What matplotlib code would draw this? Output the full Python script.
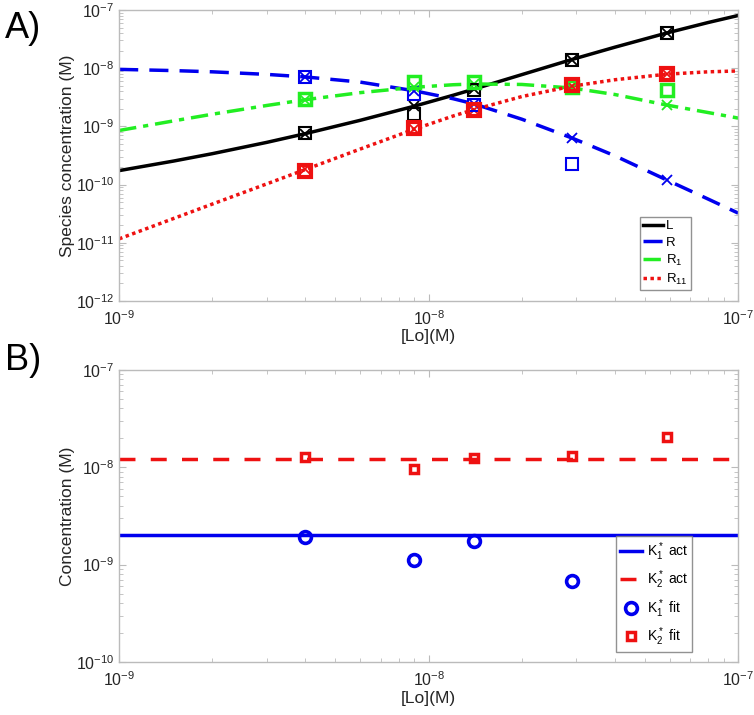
import matplotlib
matplotlib.use("Agg")
import matplotlib.pyplot as plt
import numpy as np
from matplotlib.ticker import LogLocator, NullFormatter

plt.rcParams['font.family'] = ['Liberation Sans', 'DejaVu Sans']
plt.rcParams['mathtext.default'] = 'regular'
plt.rcParams['axes.unicode_minus'] = False

# ---- Panel A data ----
x_curve = [1e-9, 1.5e-9, 2e-9, 3e-9, 4e-9, 6e-9, 9e-9, 1.2e-8, 1.4e-8,
           2e-8, 2.9e-8, 4e-8, 5.9e-8, 8e-8, 1e-7]
L_curve = [1.74e-10, 2.54e-10, 3.40e-10, 5.32e-10, 7.52e-10, 1.27e-9, 2.23e-9,
           3.43e-9, 4.37e-9, 7.76e-9, 1.41e-8, 2.30e-8, 4.05e-8, 6.10e-8, 8.05e-8]
R_curve = [9.55e-9, 9.10e-9, 8.67e-9, 7.83e-9, 7.08e-9, 5.78e-9, 4.09e-9,
           2.99e-9, 2.44e-9, 1.33e-9, 6.34e-10, 3.12e-10, 1.19e-10, 5.64e-11, 3.24e-11]
R1_curve = [8.51e-10, 1.245e-9, 1.62e-9, 2.29e-9, 2.88e-9, 3.80e-9, 4.70e-9,
            5.20e-9, 5.36e-9, 5.26e-9, 4.57e-9, 3.53e-9, 2.32e-9, 1.73e-9, 1.39e-9]
R11_curve = [1.17e-11, 2.62e-11, 4.63e-11, 1.03e-10, 1.82e-10, 4.07e-10, 8.97e-10,
             1.51e-9, 1.94e-9, 3.26e-9, 4.90e-9, 6.34e-9, 7.91e-9, 8.67e-9, 8.97e-9]

x_pts = [4e-9, 9e-9, 1.4e-8, 2.9e-8, 5.9e-8]
L_sim = [7.52e-10, 2.23e-9, 4.37e-9, 1.41e-8, 4.05e-8]
R_sim = [7.08e-9, 4.09e-9, 2.44e-9, 6.34e-10, 1.19e-10]
R1_sim = [2.88e-9, 4.70e-9, 5.36e-9, 4.57e-9, 2.32e-9]
R11_sim = [1.82e-10, 8.97e-10, 1.94e-9, 4.90e-9, 7.91e-9]

L_fit = [7.6e-10, 1.66e-9, 4.2e-9, 1.41e-8, 4.1e-8]
R_fit = [7.1e-9, 3.6e-9, 2.3e-9, 2.3e-10, np.nan]
R1_fit = [2.9e-9, 5.8e-9, 5.9e-9, 4.7e-9, 4.2e-9]
R11_fit = [1.74e-10, 9.5e-10, 1.95e-9, 5.1e-9, 7.9e-9]

# ---- Panel B data ----
K1_act = 2.0e-9
K2_act = 1.21e-8
x_fit = [4e-9, 9e-9, 1.4e-8, 2.9e-8, 5.9e-8]
K1_fit = [1.9e-9, 1.12e-9, 1.73e-9, 6.8e-10, np.nan]
K2_fit = [1.26e-8, 9.5e-9, 1.24e-8, 1.31e-8, 2.04e-8]

blue = '#0000ee'
green = '#22ee22'
red = '#ee1111'
txt = '#262626'

fig = plt.figure(figsize=(7.54, 7.15), dpi=100)
ax1 = fig.add_axes([0.158, 0.579, 0.821, 0.407])
ax2 = fig.add_axes([0.158, 0.074, 0.821, 0.409])

def style(ax, ymin, ymax):
    ax.set_xscale('log'); ax.set_yscale('log')
    ax.set_xlim(1e-9, 1e-7); ax.set_ylim(ymin, ymax)
    for s in ax.spines.values():
        s.set_color('#bbbbbb'); s.set_linewidth(1.0)
    ax.tick_params(which='both', direction='in', top=True, right=True,
                   color='#bbbbbb', labelsize=11.5, labelcolor=txt)
    ax.tick_params(axis='x', which='major', pad=6)
    ax.tick_params(which='major', length=5)
    ax.tick_params(which='minor', length=3)
    ax.xaxis.set_minor_locator(LogLocator(base=10, subs=np.arange(2, 10)))
    ax.yaxis.set_minor_locator(LogLocator(base=10, subs=np.arange(2, 10)))
    ax.xaxis.set_minor_formatter(NullFormatter())
    ax.yaxis.set_minor_formatter(NullFormatter())
    ax.set_xlabel('[Lo](M)', fontsize=12.5, color=txt, labelpad=1)

style(ax1, 1e-12, 1e-7)
lw = 2.5
hL, = ax1.plot(x_curve, L_curve, '-', color='black', lw=lw, label='L')
hR, = ax1.plot(x_curve, R_curve, '--', color=blue, lw=lw, dashes=(5.5, 3.2), label='R')
hR1, = ax1.plot(x_curve, R1_curve, '-.', color=green, lw=lw, dashes=(5, 2, 1.5, 2), label='R$_1$')
hR11, = ax1.plot(x_curve, R11_curve, ':', color=red, lw=lw, dashes=(1, 1), label='R$_{11}$')
for ys, c in [(L_sim, 'black'), (R_sim, blue), (R1_sim, green), (R11_sim, red)]:
    ax1.plot(x_pts, ys, 'x', color=c, ms=7, mew=1.3, ls='none')
for ys, c, mw in [(L_fit, 'black', 1.5), (R_fit, blue, 1.5), (R1_fit, green, 2.5), (R11_fit, red, 3)]:
    ax1.plot(x_pts, ys, 's', mfc='none', mec=c, ms=9, mew=mw, ls='none')
ax1.set_ylabel('Species concentration (M)', fontsize=12.5, color=txt)
ax1.yaxis.set_label_coords(-0.072, 0.5)
leg1 = ax1.legend(handles=[hL, hR, hR1, hR11], loc='lower right',
                  bbox_to_anchor=(0.924, 0.038), fontsize=9.5, handlelength=1.5,
                  handletextpad=0.25, borderpad=0.25, labelspacing=0.3,
                  borderaxespad=0, frameon=True, fancybox=False, edgecolor='#777777')
leg1.get_frame().set_linewidth(1.0)

style(ax2, 1e-10, 1e-7)
h1, = ax2.plot([1e-9, 1e-7], [K1_act, K1_act], '-', color=blue, lw=lw, label='K$_1^*$ act')
h2, = ax2.plot([1e-9, 1e-7], [K2_act, K2_act], '--', color=red, lw=lw, dashes=(4.6, 4.4),
               label='K$_2^*$ act')
h3, = ax2.plot(x_fit, K1_fit, 'o', mfc='none', mec=blue, ms=8.5, mew=2.6, ls='none',
               label='K$_1^*$ fit')
h4, = ax2.plot(x_fit, K2_fit, 's', mfc='none', mec=red, ms=6, mew=2.5, ls='none',
               label='K$_2^*$ fit')
ax2.set_ylabel('Concentration (M)', fontsize=12.5, color=txt)
ax2.yaxis.set_label_coords(-0.072, 0.5)
leg2 = ax2.legend(handles=[h1, h2, h3, h4], loc='lower right',
                  bbox_to_anchor=(0.926, 0.034), fontsize=10, handlelength=1.6,
                  handletextpad=0.3, borderpad=0.3, labelspacing=0.42,
                  borderaxespad=0, frameon=True, fancybox=False, edgecolor='#777777')
leg2.get_frame().set_linewidth(1.0)

fig.text(0.006, 0.985, 'A)', fontsize=26, va='top', ha='left')
fig.text(0.006, 0.520, 'B)', fontsize=26, va='top', ha='left')

fig.savefig('out.png', dpi=100)
